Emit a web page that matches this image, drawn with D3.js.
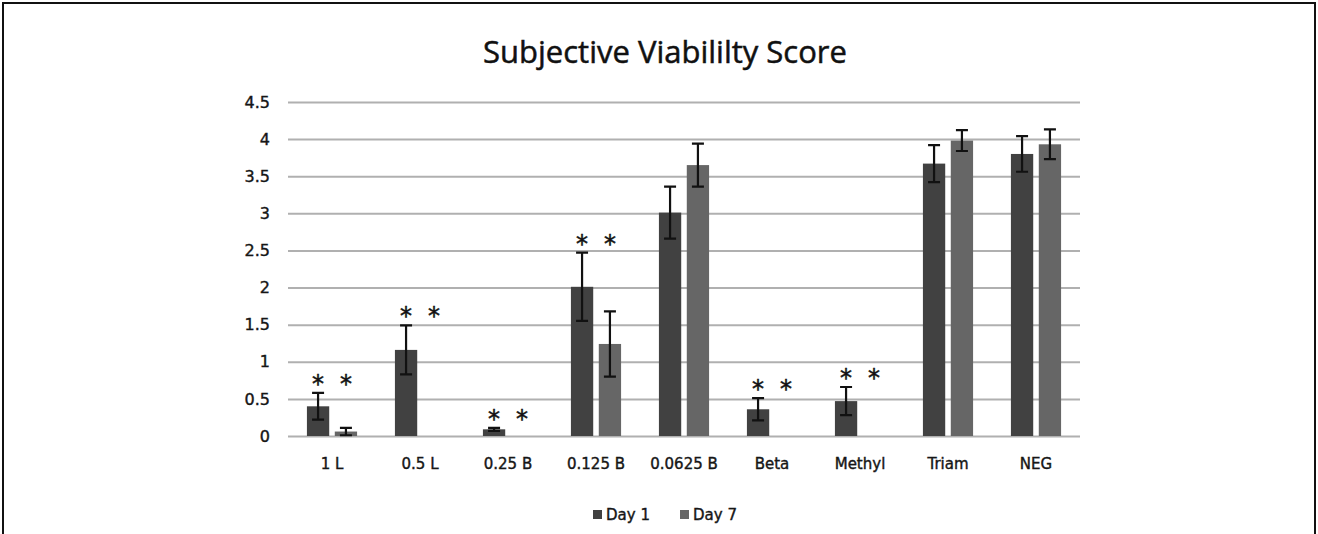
<!DOCTYPE html>
<html>
<head>
<meta charset="utf-8">
<script src="https://cdn.jsdelivr.net/npm/d3@7"></script>
<style>
  body { margin: 0; background: #fff; }
  svg { display: block; }
</style>
</head>
<body>
<div id="wrapper"></div>
<script>
// values
const categories = ["1 L", "0.5 L", "0.25 B", "0.125 B", "0.0625 B", "Beta", "Methyl", "Triam", "NEG"];
const seriesNames = ["Day 1", "Day 7"];
const day1 = [0.40, 1.16, 0.09, 2.01, 3.01, 0.36, 0.47, 3.67, 3.80];
const day7 = [0.06, 0, 0, 1.24, 3.65, 0, 0, 3.98, 3.93];
const day1Err = [0.18, 0.33, 0.02, 0.46, 0.35, 0.15, 0.19, 0.25, 0.24];
const day7Err = [0.05, 0, 0, 0.44, 0.29, 0, 0, 0.14, 0.20];
const significant = [true, true, true, true, false, true, true, false, false];
const yTicks = [0, 0.5, 1, 1.5, 2, 2.5, 3, 3.5, 4, 4.5];
const colors = ["#414141", "#666666"];

function draw() {
    const dimension = {
        width: 1318,
        height: 534,
        margin: { top: 102, left: 288, bottom: 98, right: 238 }
    };
    dimension.boundedWidth = dimension.width - dimension.margin.left - dimension.margin.right;
    dimension.boundedHeight = dimension.height - dimension.margin.top - dimension.margin.bottom;

    const svg = d3.select("#wrapper").append("svg")
        .attr("width", dimension.width)
        .attr("height", dimension.height);

    // outer frame
    svg.append("rect")
        .attr("x", 3).attr("y", 3)
        .attr("width", 1312).attr("height", 560)
        .attr("fill", "none")
        .attr("stroke", "#111")
        .attr("stroke-width", 2);

    svg.append("text")
        .attr("x", 665).attr("y", 63)
        .attr("text-anchor", "middle")
        .style("font-family", "'Open Sans', sans-serif")
        .style("font-size", "31px")
        .attr("fill", "#111")
        .attr("stroke", "#111")
        .attr("stroke-width", 0.5)
        .text("Subjective Viabililty Score");

    const bounded = svg.append("g")
        .attr("transform", `translate(${dimension.margin.left},${dimension.margin.top})`);

    const yScaler = d3.scaleLinear()
        .domain([0, 4.5])
        .range([dimension.boundedHeight, 0]);

    const xScaler = d3.scaleBand()
        .domain(categories)
        .range([0, dimension.boundedWidth])
        .paddingInner(0.43)
        .paddingOuter(0.215);

    const inner = d3.scaleBand()
        .domain(seriesNames)
        .range([0, xScaler.bandwidth()])
        .paddingInner(0.2);

    const labelStyle = sel => sel
        .style("font-family", "'DejaVu Sans', sans-serif")
        .attr("fill", "#161616")
        .attr("stroke", "#161616")
        .attr("stroke-width", 0.4);

    // gridlines
    const y_axis = d3.axisLeft(yScaler)
        .tickValues(yTicks)
        .tickSize(-dimension.boundedWidth)
        .tickPadding(18)
        .tickFormat(d3.format("~g"));

    const yAxisG = bounded.append("g").call(y_axis);
    yAxisG.select(".domain").remove();
    yAxisG.selectAll(".tick line")
        .attr("stroke", "#b0b0b0")
        .attr("stroke-width", 2);
    yAxisG.selectAll(".tick text")
        .call(labelStyle)
        .style("font-size", "16px");

    const x_axis = d3.axisBottom(xScaler).tickSize(0).tickPadding(22);
    const xAxisG = bounded.append("g")
        .attr("transform", `translate(0,${dimension.boundedHeight})`)
        .call(x_axis);
    xAxisG.select(".domain").remove();
    xAxisG.selectAll(".tick text")
        .call(labelStyle)
        .style("font-size", "15px");

    const rows = categories.map((c, i) => ({
        cat: c,
        vals: [
            { s: seriesNames[0], v: day1[i], e: day1Err[i] },
            { s: seriesNames[1], v: day7[i], e: day7Err[i] }
        ],
        sig: significant[i]
    }));

    const groups = bounded.selectAll(".grp")
        .data(rows)
        .join("g")
        .attr("class", "grp")
        .attr("transform", d => `translate(${xScaler(d.cat)},0)`);

    const bars = groups.selectAll(".bar")
        .data(d => d.vals)
        .join("g")
        .attr("class", "bar");

    bars.append("rect")
        .attr("x", d => inner(d.s))
        .attr("width", inner.bandwidth())
        .attr("y", d => yScaler(d.v))
        .attr("height", d => yScaler(0) - yScaler(d.v))
        .attr("fill", (d, i) => colors[i]);

    // error bars
    const withErr = bars.filter(d => d.e > 0);
    const cap = 6;
    withErr.append("path")
        .attr("d", d => {
            const cx = inner(d.s) + inner.bandwidth() / 2;
            const y1 = yScaler(d.v + d.e), y0 = yScaler(Math.max(0, d.v - d.e));
            return `M${cx - cap},${y1}H${cx + cap}M${cx},${y1}V${y0}M${cx - cap},${y0}H${cx + cap}`;
        })
        .attr("fill", "none")
        .attr("stroke", "#111")
        .attr("stroke-width", 2.2);

    // significance asterisks
    groups.filter(d => d.sig).each(function (d) {
        const top = d3.max(d.vals, v => v.v + v.e);
        d3.select(this).selectAll(".star")
            .data(seriesNames)
            .join("text")
            .attr("class", "star")
            .attr("x", s => inner(s) + inner.bandwidth() / 2)
            .attr("y", yScaler(top) - 14 + 13)
            .attr("text-anchor", "middle")
            .style("font-family", "'DejaVu Sans', sans-serif")
            .style("font-size", "24px")
            .attr("fill", "#111")
            .attr("stroke", "#111")
            .attr("stroke-width", 0.5)
            .text("*");
    });

    // legend
    const legend = svg.append("g").attr("transform", "translate(0,515)");
    const legendX = [593, 680];
    seriesNames.forEach((name, i) => {
        const g = legend.append("g").attr("transform", `translate(${legendX[i]},0)`);
        g.append("rect")
            .attr("x", 0).attr("y", -5)
            .attr("width", 9).attr("height", 9)
            .attr("fill", colors[i]);
        g.append("text")
            .attr("x", 13).attr("y", 0)
            .attr("dy", "0.35em")
            .call(labelStyle)
            .style("font-size", "15px")
            .text(name);
    });
}

draw();
</script>
</body>
</html>
